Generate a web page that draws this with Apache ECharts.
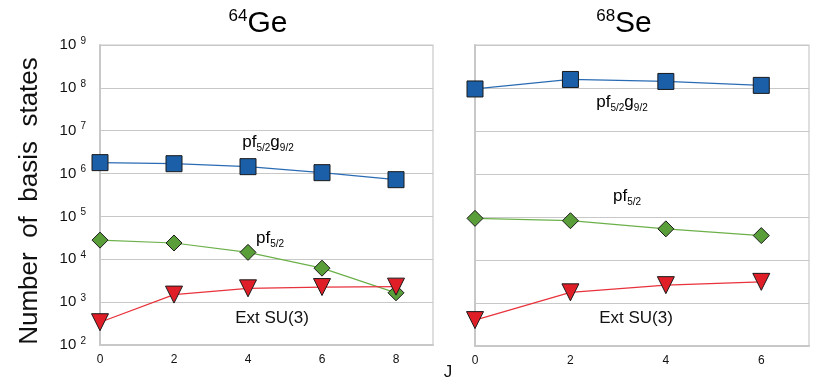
<!DOCTYPE html>
<html>
<head>
<meta charset="utf-8">
<script src="https://cdn.jsdelivr.net/npm/echarts@6/dist/echarts.min.js"></script>
<style>
html, body { margin: 0; padding: 0; background: #fff; }
#chart { width: 821px; height: 382px; }
</style>
</head>
<body>
<div id="chart"></div>
<script>
// 64Ge
var jGe = [0, 2, 4, 6, 8];
var gePfg = [1.8e6, 1.7e6, 1.45e6, 1.05e6, 0.72e6];
var gePf = [2.8e4, 2.4e4, 1.45e4, 6.2e3, 1.65e3];
var geSu3 = [3.4e2, 1.5e3, 2.1e3, 2.25e3, 2.3e3];

// 68Se
var jSe = [0, 2, 4, 6];
var sePfg = [0.95e8, 1.58e8, 1.42e8, 1.15e8];
var sePf = [9.3e4, 8.2e4, 5.3e4, 3.7e4];
var seSu3 = [4.0e2, 1.77e3, 2.6e3, 3.1e3];

var yMin = 1e2, yMax = 1e9;

function pairs(xs, ys) {
    var out = [];
    for (var i = 0; i < xs.length; i++) out.push([xs[i], ys[i]]);
    return out;
}

var chart = echarts.init(document.getElementById('chart'));
var font = 'Liberation Sans, Arial, sans-serif';

var subRich = {
    t: { fontSize: 17, fontFamily: font, color: '#111', lineHeight: 22 },
    s: { fontSize: 10, fontFamily: font, color: '#111', lineHeight: 4, verticalAlign: 'bottom' }
};
var titleRich = {
    t: { fontSize: 30, fontFamily: font, color: '#111', lineHeight: 32 },
    u: { fontSize: 17, fontFamily: font, color: '#111', lineHeight: 10, verticalAlign: 'top' }
};

function yAxis(idx, showLabels) {
    return {
        type: 'log', logBase: 10, gridIndex: idx,
        min: yMin, max: yMax,
        axisLine: { show: true, lineStyle: { color: '#c8c8c8', width: 2 } },
        axisTick: { show: false },
        splitLine: { show: true, lineStyle: { color: '#c8c8c8', width: 1.2 } },
        axisLabel: {
            show: showLabels, margin: 14,
            formatter: function (v) {
                var e = Math.round(Math.log(v) / Math.LN10);
                return '{b|10 }{s|' + e + '}';
            },
            rich: {
                b: { fontSize: 15, fontFamily: font, color: '#111', lineHeight: 18 },
                s: { fontSize: 10, fontFamily: font, color: '#111', lineHeight: 8, verticalAlign: 'top' }
            }
        }
    };
}

function xAxis(idx, max) {
    return {
        type: 'value', gridIndex: idx, min: 0, max: max, interval: 2,
        axisLine: { show: true, onZero: false, lineStyle: { color: '#c8c8c8', width: 2 } },
        axisTick: { show: false },
        splitLine: { show: false },
        axisLabel: { showMaxLabel: false, fontSize: 12, fontFamily: font, color: '#111', margin: 9 }
    };
}

function series(idx, data, color, symbol, fill, size, rot) {
    return {
        type: 'line', xAxisIndex: idx, yAxisIndex: idx,
        data: data, symbol: symbol, symbolSize: size, symbolRotate: rot || 0,
        lineStyle: { color: color, width: 1.2 },
        itemStyle: { color: fill, borderColor: '#1a1a1a', borderWidth: 1 },
        animation: false, z: 3
    };
}

var option = {
    animation: false,
    grid: [
        { left: 100, right: 388, top: 45, bottom: 37, show: true, borderColor: '#c8c8c8', borderWidth: 1.2 },
        { left: 475, right: 12, top: 45, bottom: 36, show: true, borderColor: '#c8c8c8', borderWidth: 1.2 }
    ],
    xAxis: [xAxis(0, 9), xAxis(1, 7)],
    yAxis: [yAxis(0, true), yAxis(1, false)],
    series: [
        series(0, pairs(jGe, gePfg), '#2a6cb3', 'rect', '#1a5fa8', 16),
        series(0, pairs(jGe, gePf), '#6cb04a', 'diamond', '#5a9e3a', 16),
        series(0, pairs(jGe, geSu3), '#e8323c', 'triangle', '#e01e28', 17, 180),
        series(1, pairs(jSe, sePfg), '#2a6cb3', 'rect', '#1a5fa8', 16),
        series(1, pairs(jSe, sePf), '#6cb04a', 'diamond', '#5a9e3a', 16),
        series(1, pairs(jSe, seSu3), '#e8323c', 'triangle', '#e01e28', 17, 180)
    ],
    graphic: [
        { type: 'text', x: 258, y: 24, style: { text: '{u|64}{t|Ge}', rich: titleRich, textAlign: 'center', textVerticalAlign: 'middle' } },
        { type: 'text', x: 624, y: 24, style: { text: '{u|68}{t|Se}', rich: titleRich, textAlign: 'center', textVerticalAlign: 'middle' } },
        { type: 'text', x: 30, y: 201, rotation: Math.PI / 2,
          style: { text: 'Number  of  basis  states', font: '26px ' + font, fill: '#111', textAlign: 'center', textVerticalAlign: 'middle' } },
        { type: 'text', x: 448, y: 372, style: { text: 'J', font: '17px ' + font, fill: '#111', textAlign: 'center', textVerticalAlign: 'middle' } },
        { type: 'text', x: 268, y: 142, style: { text: '{t|pf}{s|5/2}{t|g}{s|9/2}', rich: subRich, textAlign: 'center', textVerticalAlign: 'middle' } },
        { type: 'text', x: 270, y: 238, style: { text: '{t|pf}{s|5/2}', rich: subRich, textAlign: 'center', textVerticalAlign: 'middle' } },
        { type: 'text', x: 272, y: 318, style: { text: 'Ext SU(3)', font: '17px ' + font, fill: '#111', textAlign: 'center', textVerticalAlign: 'middle' } },
        { type: 'text', x: 622, y: 102, style: { text: '{t|pf}{s|5/2}{t|g}{s|9/2}', rich: subRich, textAlign: 'center', textVerticalAlign: 'middle' } },
        { type: 'text', x: 627, y: 196, style: { text: '{t|pf}{s|5/2}', rich: subRich, textAlign: 'center', textVerticalAlign: 'middle' } },
        { type: 'text', x: 636, y: 318, style: { text: 'Ext SU(3)', font: '17px ' + font, fill: '#111', textAlign: 'center', textVerticalAlign: 'middle' } }
    ]
};

chart.setOption(option);
</script>
</body>
</html>
